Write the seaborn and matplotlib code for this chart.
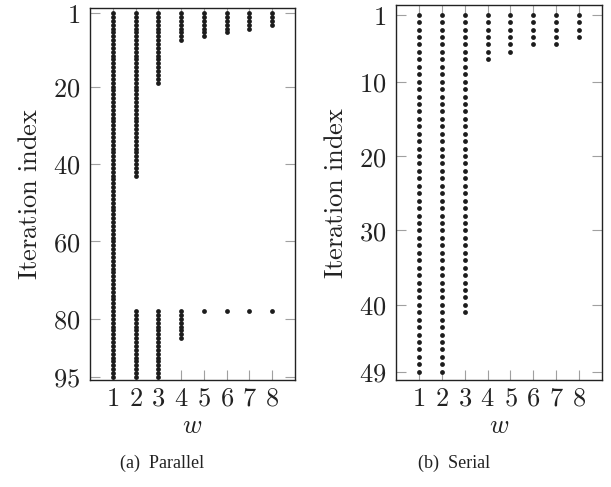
import matplotlib
matplotlib.use("Agg")
import matplotlib.pyplot as plt
import seaborn as sns
import pandas as pd

# Window sizes on the horizontal axis
w_values = [1, 2, 3, 4, 5, 6, 7, 8]

# Parallel run: each w is active from iteration 1 up to par_first_end,
# and again from par_late_start up to par_late_end (0 = no late run)
par_first_end = [95, 43, 19, 8, 7, 6, 5, 4]
par_late_start = [0, 78, 78, 78, 78, 78, 78, 78]
par_late_end = [0, 95, 95, 85, 78, 78, 78, 78]

# Serial run: each w is active from iteration 1 up to ser_end
ser_end = [49, 49, 41, 7, 6, 5, 5, 4]

par_yticks = [1, 20, 40, 60, 80, 95]
ser_yticks = [1, 10, 20, 30, 40, 49]
captions = ["(a)  Parallel", "(b)  Serial"]


def expand(first_end, late_start=None, late_end=None):
    rows = []
    for i, w in enumerate(w_values):
        for it in range(1, first_end[i] + 1):
            rows.append((w, it))
        if late_start is not None and late_end[i] > 0:
            for it in range(late_start[i], late_end[i] + 1):
                rows.append((w, it))
    return pd.DataFrame(rows, columns=["w", "iteration"])


par_df = expand(par_first_end, par_late_start, par_late_end)
ser_df = expand(ser_end)

sns.set_theme(style="white")
plt.rcParams["mathtext.fontset"] = "cm"
plt.rcParams["font.family"] = ["DejaVu Serif"]

W, H = 611, 487
fig = plt.figure(figsize=(W / 100, H / 100), dpi=100)


def px_axes(x0, y0, x1, y1):
    return fig.add_axes([x0 / W, 1 - y1 / H, (x1 - x0) / W, (y1 - y0) / H])


ax_par = px_axes(90, 8, 295, 380)
ax_ser = px_axes(396, 5, 602, 380)

dot = dict(color="#1c1c1c", s=12, linewidth=0, legend=False)
sns.scatterplot(data=par_df, x="w", y="iteration", ax=ax_par, **dot)
sns.scatterplot(data=ser_df, x="w", y="iteration", ax=ax_ser, **dot)

ax_par.set_ylim(95.8, -0.3)
ax_ser.set_ylim(50.1, -0.3)

for ax, yt in [(ax_par, par_yticks), (ax_ser, ser_yticks)]:
    ax.set_xlim(0, 9)
    ax.set_xticks(w_values)
    ax.set_xticklabels([f"${v}$" for v in w_values])
    ax.set_yticks(yt)
    ax.set_yticklabels([f"${v}$" for v in yt])
    ax.tick_params(axis="both", which="major", direction="in", length=7.5,
                   width=0.8, color="#a0a0a0", labelsize=19, labelcolor="#222222",
                   top=True, right=True, left=True, bottom=True)
    ax.tick_params(axis="y", pad=7)
    ax.tick_params(axis="x", pad=4)
    for sp in ax.spines.values():
        sp.set_visible(True)
        sp.set_color("#222222")
        sp.set_linewidth(1.0)
    ax.set_xlabel(r"$w$", fontsize=19, color="#222222", labelpad=2)
    ax.set_ylabel(r"$\mathrm{Iteration\ index}$", fontsize=19, color="#222222",
                  labelpad=8)
    ax.grid(False)

fig.text(162 / W, 1 - 463 / H, captions[0], ha="center", va="center",
         fontsize=13, family=["Liberation Serif"], color="#222222")
fig.text(454 / W, 1 - 463 / H, captions[1], ha="center", va="center",
         fontsize=13, family=["Liberation Serif"], color="#222222")

fig.savefig("out.png", dpi=100)
